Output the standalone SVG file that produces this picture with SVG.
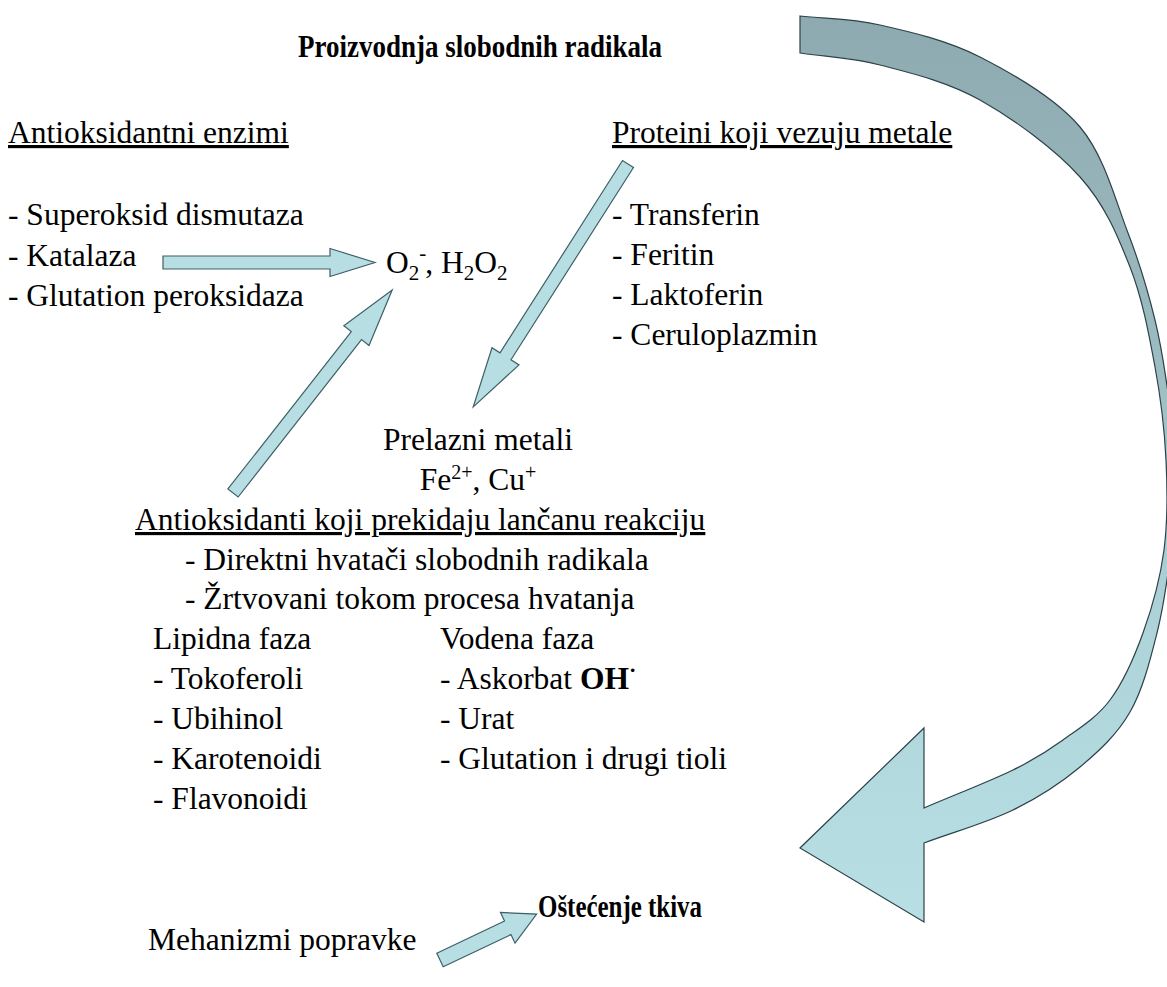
<svg xmlns="http://www.w3.org/2000/svg" width="1167" height="987" viewBox="0 0 1167 987">
<defs>
<linearGradient id="bigGrad" gradientUnits="userSpaceOnUse" x1="0" y1="16" x2="0" y2="922">
<stop offset="0" stop-color="#8daab0"/>
<stop offset="0.35" stop-color="#9bbabf"/>
<stop offset="0.7" stop-color="#afd5da"/>
<stop offset="1" stop-color="#b7dfe4"/>
</linearGradient>
<style>
.t{font-family:"Liberation Serif","Times New Roman",serif;font-size:31.5px;fill:#000}
.b{font-weight:bold}
.u{text-decoration:underline}
.arr{fill:#b7dfe3;stroke:#3e5f66;stroke-width:1.2;stroke-linejoin:miter}
.big{fill:url(#bigGrad);stroke:#2c4248;stroke-width:1.2}
</style>
</defs>
<rect width="1167" height="987" fill="#fff"/>

<g id="connectors">
<path id="bigArrow" class="big" d="M800,16 C826.7,19 850,18.2 880,25 C910,31.8 946.7,40 980,57 C1013.3,74 1055.3,97.7 1080,127 C1104.7,156.3 1115.5,200.8 1128,233 C1140.5,265.2 1148.2,292.2 1155,320 C1161.8,347.8 1165.5,374.2 1169,400 C1172.5,425.8 1175.7,450 1176,475 C1176.3,500 1174.2,523.7 1171,550 C1167.8,576.3 1163.8,606 1157,633 C1150.2,660 1142.8,689.7 1130,712 C1117.2,734.3 1099.5,750.7 1080,767 C1060.5,783.3 1039,797.3 1013,810 C987,822.7 953.7,832 924,843 L924,922 L800,848 L924,728 L924,808 C953.7,795.3 989.8,781.3 1013,770 C1036.2,758.7 1046.8,751.7 1063,740 C1079.2,728.3 1096.7,717.8 1110,700 C1123.3,682.2 1134,658 1143,633 C1152,608 1160.2,578.8 1164,550 C1167.8,521.2 1167.5,490.5 1166,460 C1164.5,429.5 1161,399.2 1155,367 C1149,334.8 1142.5,298.7 1130,267 C1117.5,235.3 1105,204.8 1080,177 C1055,149.2 1013.3,118.7 980,100 C946.7,81.3 910,72.8 880,65 C850,57.2 826.7,57 800,53 Z"/>
<path id="arrEnzimi" class="arr" transform="translate(163,262.5)" d="M0,-6.5 L167,-6.5 L167,-14 L212,0 L167,14 L167,6.5 L0,6.5 Z"/>
<path id="arrChain" class="arr" transform="translate(233,493) rotate(-51.9)" d="M0,-6.5 L200,-6.5 L200,-16 L258,0 L200,16 L200,6.5 L0,6.5 Z"/>
<path id="arrProteins" class="arr" transform="translate(628,164) rotate(122.5)" d="M0,-6.5 L228,-6.5 L228,-16 L288,0 L228,16 L228,6.5 L0,6.5 Z"/>
<path id="arrRepair" class="arr" transform="translate(440,960) rotate(-25.4)" d="M0,-7.5 L75,-7.5 L75,-17 L107,0 L75,17 L75,7.5 L0,7.5 Z"/>
</g>

<g id="title"><text class="t b" x="298" y="57" textLength="364" lengthAdjust="spacingAndGlyphs">Proizvodnja slobodnih radikala</text></g>

<g id="enzimi">
<text class="t u" x="8" y="143">Antioksidantni enzimi</text>
<text class="t" x="8" y="225">- Superoksid dismutaza</text>
<text class="t" x="8" y="266">- Katalaza</text>
<text class="t" x="8" y="306">- Glutation peroksidaza</text>
</g>

<g id="proteini">
<text class="t u" x="612" y="143">Proteini koji vezuju metale</text>
<text class="t" x="612" y="225">- Transferin</text>
<text class="t" x="612" y="265">- Feritin</text>
<text class="t" x="612" y="305">- Laktoferin</text>
<text class="t" x="612" y="345">- Ceruloplazmin</text>
</g>

<g id="ros">
<text class="t" x="386" y="273" font-size="33">O<tspan font-size="21" dy="7">2</tspan><tspan font-size="21" dy="-20">-</tspan><tspan dx="-1" dy="13">, H</tspan><tspan font-size="21" dy="7">2</tspan><tspan dy="-7">O</tspan><tspan font-size="21" dy="7">2</tspan></text>
</g>

<g id="metali">
<text class="t" x="478" y="450" text-anchor="middle">Prelazni metali</text>
<text class="t" x="478" y="490" text-anchor="middle">Fe<tspan font-size="20" dy="-11">2+</tspan><tspan dy="11">, Cu</tspan><tspan font-size="20" dy="-11">+</tspan></text>
</g>

<g id="lancani">
<text class="t u" x="135" y="530">Antioksidanti koji prekidaju lančanu reakciju</text>
<text class="t" x="185" y="570">- Direktni hvatači slobodnih radikala</text>
<text class="t" x="185" y="609">- Žrtvovani tokom procesa hvatanja</text>
<text class="t" x="153" y="649">Lipidna faza</text>
<text class="t" x="153" y="689">- Tokoferoli</text>
<text class="t" x="153" y="729">- Ubihinol</text>
<text class="t" x="153" y="769">- Karotenoidi</text>
<text class="t" x="153" y="809">- Flavonoidi</text>
<text class="t" x="440" y="649">Vodena faza</text>
<text class="t" x="440" y="689">- Askorbat <tspan class="b">OH</tspan><tspan class="b" font-size="22" dy="-12">·</tspan></text>
<text class="t" x="440" y="729">- Urat</text>
<text class="t" x="440" y="769">- Glutation i drugi tioli</text>
</g>

<g id="ostecenje"><text class="t b" x="538" y="917" textLength="164" lengthAdjust="spacingAndGlyphs">Oštećenje tkiva</text></g>
<g id="popravka"><text class="t" x="148" y="950">Mehanizmi popravke</text></g>
</svg>
